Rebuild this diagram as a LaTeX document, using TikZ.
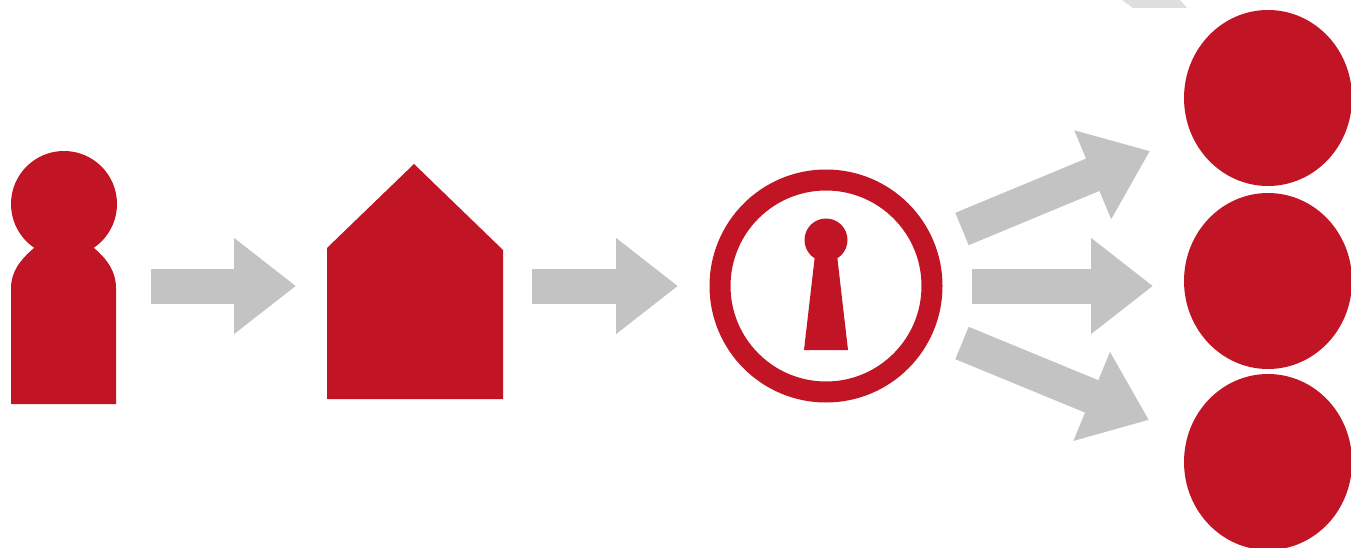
\documentclass[tikz,border=0pt]{standalone}
\usetikzlibrary{arrows.meta,shapes.geometric}
\definecolor{redc}{RGB}{193,20,36}
\definecolor{greyc}{RGB}{195,195,195}
\definecolor{fadegrey}{RGB}{222,222,222}
\tikzset{
  x=1pt,y=-1pt,
  red fill/.style={fill=redc,draw=none},
  disc/.style={ellipse,fill=redc,draw=none,minimum width=168pt,minimum height=176pt,inner sep=0pt},
  flow/.style={draw=greyc,line width=35pt,-{Triangle[length=62pt,width=92pt,color=greyc]}},
}
\begin{document}
\begin{tikzpicture}
\useasboundingbox (0,0) rectangle (1351,548);
\fill[white] (0,0) rectangle (1351,548);
% grey fragment at the top edge
\fill[fadegrey] (1122,0) -- (1133,8) -- (1187,8) -- (1180,0) -- cycle;
% person
\node[circle,fill=redc,minimum size=106pt,inner sep=0pt] (head) at (64,204) {};
\path[red fill] (11,404) -- (11,288) .. controls (11,272) and (20,260) .. (34,248) -- (94,248) .. controls (108,260) and (116,272) .. (116,288) -- (116,404) -- cycle;
% house
\path[red fill] (327,399) -- (327,248) -- (414,164) -- (503,250) -- (503,399) -- cycle;
% keyhole ring
\node[circle,draw=redc,line width=21pt,fill=white,minimum size=212pt,inner sep=0pt] (ring) at (826,286) {};
\node[circle,fill=redc,minimum size=43pt,inner sep=0pt] (kh) at (826,240) {};
\path[red fill] (815,255) -- (837,255) -- (848,350) -- (804,350) -- cycle;
% discs
\node[disc] (d1) at (1268,98) {};
\node[disc] (d2) at (1268,281) {};
\node[disc] (d3) at (1268,462) {};
% arrows
\coordinate (a1s) at (151,286); \coordinate (a1e) at (296,286);
\coordinate (a2s) at (532,286); \coordinate (a2e) at (678,286);
\coordinate (a3s) at (972,286); \coordinate (a3e) at (1153,286);
\coordinate (a4s) at (962,229); \coordinate (a4e) at (1150,151);
\coordinate (a5s) at (962,343); \coordinate (a5e) at (1149,420);
\draw[flow] (a1s) -- (a1e);
\draw[flow] (a2s) -- (a2e);
\draw[flow] (a3s) -- (a3e);
\draw[flow] (a4s) -- (a4e);
\draw[flow] (a5s) -- (a5e);
\end{tikzpicture}
\end{document}
